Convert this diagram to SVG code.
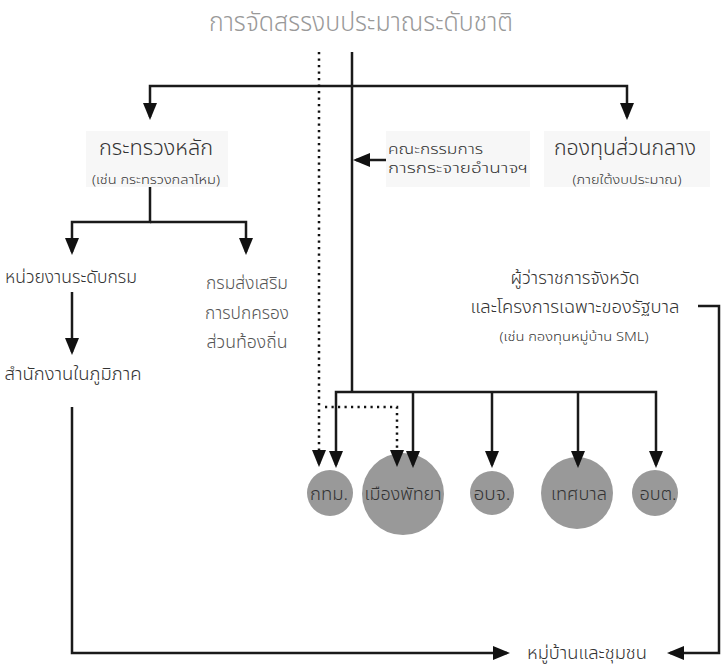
<svg xmlns="http://www.w3.org/2000/svg" width="721" height="666" viewBox="0 0 721 666">
<style>
text{font-family:"Noto Sans Thai","Noto Sans","DejaVu Sans",sans-serif;fill:#333;font-weight:300}
.title{font-size:26px;fill:#999;font-weight:300}
.big{font-size:21px}
.mid{font-size:18px}
.sm{font-size:12px}
.c{text-anchor:middle}
.lt{fill:#555}
.box{fill:#f7f7f7}
.circ{fill:#999}
.ln{fill:none;stroke:#1a1a1a;stroke-width:2.5;marker-end:url(#ah)}
.ln0{fill:none;stroke:#1a1a1a;stroke-width:2.5}
.dot{fill:none;stroke:#111;stroke-width:2.5;stroke-dasharray:2.2 4.3;marker-end:url(#ah)}
</style>
<defs>
<marker id="ah" markerUnits="userSpaceOnUse" markerWidth="17" markerHeight="14" refX="14" refY="7" orient="auto">
<path d="M0,0 L17,7 L0,14 z" fill="#111"/>
</marker>
</defs>
<text class="title c" x="361" y="31" textLength="304" lengthAdjust="spacingAndGlyphs">การจัดสรรงบประมาณระดับชาติ</text>

<g id="n-ministry">
<rect class="box" x="86" y="131" width="142" height="56"/>
<text class="big c" x="156" y="155" textLength="114" lengthAdjust="spacingAndGlyphs">กระทรวงหลัก</text>
<text class="sm c" x="156" y="184" textLength="128" lengthAdjust="spacingAndGlyphs">(เช่น กระทรวงกลาโหม)</text>
</g>
<g id="n-committee">
<rect class="box" x="386" y="131" width="144" height="56"/>
<text style="font-size:14px" x="388" y="154" textLength="95" lengthAdjust="spacingAndGlyphs">คณะกรรมการ</text>
<text style="font-size:14px" x="388" y="173" textLength="140" lengthAdjust="spacingAndGlyphs">การกระจายอำนาจฯ</text>
</g>
<g id="n-central">
<rect class="box" x="544" y="131" width="166" height="56"/>
<text class="big c" x="625" y="155" textLength="142" lengthAdjust="spacingAndGlyphs">กองทุนส่วนกลาง</text>
<text class="sm c" x="627" y="184" textLength="109" lengthAdjust="spacingAndGlyphs">(ภายใต้งบประมาณ)</text>
</g>
<g id="n-dept">
<text class="mid c" x="71" y="283" textLength="132" lengthAdjust="spacingAndGlyphs">หน่วยงานระดับกรม</text>
</g>
<g id="n-regional">
<text class="mid c" x="73" y="380" textLength="137" lengthAdjust="spacingAndGlyphs">สำนักงานในภูมิภาค</text>
</g>
<g id="n-dla">
<text class="mid c lt" x="247" y="289" textLength="82" lengthAdjust="spacingAndGlyphs">กรมส่งเสริม</text>
<text class="mid c lt" x="247" y="319" textLength="84" lengthAdjust="spacingAndGlyphs">การปกครอง</text>
<text class="mid c lt" x="247" y="348" textLength="81" lengthAdjust="spacingAndGlyphs">ส่วนท้องถิ่น</text>
</g>
<g id="n-governor">
<text class="mid c" x="575" y="284" textLength="129" lengthAdjust="spacingAndGlyphs">ผู้ว่าราชการจังหวัด</text>
<text class="mid c" x="575" y="313" textLength="209" lengthAdjust="spacingAndGlyphs">และโครงการเฉพาะของรัฐบาล</text>
<text class="sm c" x="574" y="341" textLength="149" lengthAdjust="spacingAndGlyphs">(เช่น กองทุนหมู่บ้าน SML)</text>
</g>
<g id="n-village">
<text style="font-size:18px" class="c" x="587" y="659" textLength="120" lengthAdjust="spacingAndGlyphs">หมู่บ้านและชุมชน</text>
</g>
<g id="n-bma">
<circle class="circ" cx="330" cy="493" r="23"/>
<text class="mid c" x="329" y="500" textLength="38" lengthAdjust="spacingAndGlyphs">กทม.</text>
</g>
<g id="n-pattaya">
<circle class="circ" cx="403" cy="494" r="41"/>
<text class="mid c" x="403" y="500" textLength="77" lengthAdjust="spacingAndGlyphs">เมืองพัทยา</text>
</g>
<g id="n-pao">
<circle class="circ" cx="492" cy="493" r="22"/>
<text class="mid c" x="492" y="500" textLength="37" lengthAdjust="spacingAndGlyphs">อบจ.</text>
</g>
<g id="n-muni">
<circle class="circ" cx="577" cy="493" r="36"/>
<text class="mid c" x="579" y="500" textLength="56" lengthAdjust="spacingAndGlyphs">เทศบาล</text>
</g>
<g id="n-sao">
<circle class="circ" cx="655" cy="493" r="23"/>
<text class="mid c" x="658" y="500" textLength="37" lengthAdjust="spacingAndGlyphs">อบต.</text>
</g>

<g id="connectors">
<path class="ln0" d="M352,52 V392"/>
<path class="ln" d="M352,86 H150 V117"/>
<path class="ln" d="M352,86 H627 V117"/>
<path class="ln" d="M386,160 H356"/>
<path class="ln" d="M150,187 V222 H72 V252"/>
<path class="ln" d="M150,222 H246 V252"/>
<path class="ln" d="M72,292 V352"/>
<path class="ln" d="M72,407 V653 H507"/>
<path class="ln" d="M698,306 H719 V653 H670"/>
<path class="ln" d="M352,392 H336 V465"/>
<path class="ln" d="M352,392 H656 V465"/>
<path class="ln" d="M413,392 V465"/>
<path class="ln" d="M492,392 V465"/>
<path class="ln" d="M578,392 V465"/>
<path class="dot" d="M319,52 V464"/>
<path class="dot" d="M325,407 H397 V464"/>
</g>
</svg>
